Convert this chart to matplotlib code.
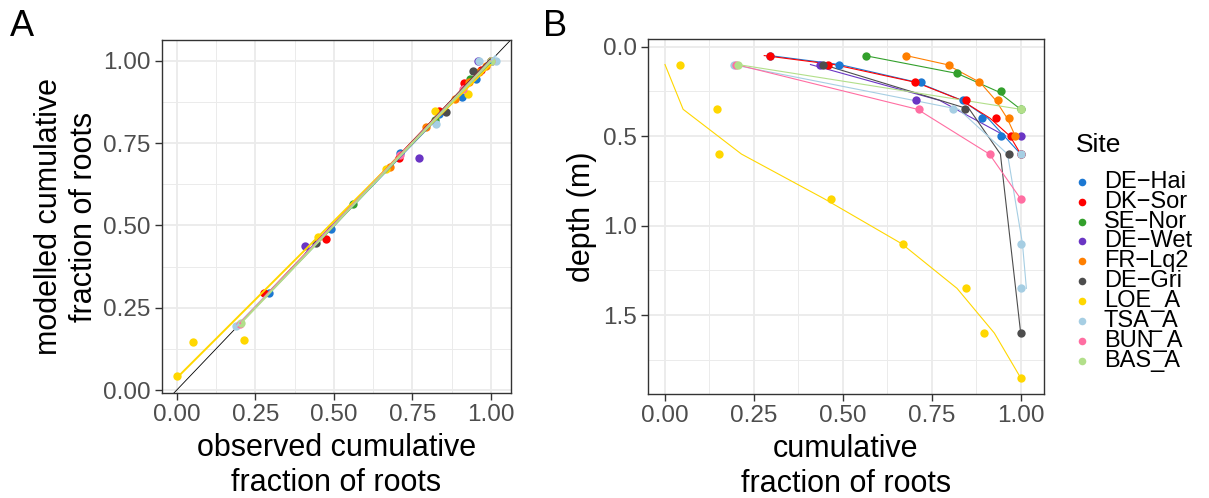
import matplotlib
matplotlib.use("Agg")
import matplotlib.pyplot as plt
import numpy as np

plt.rcParams['font.family'] = ['Liberation Sans', 'DejaVu Sans']

W, H = 1209, 498

sites = ["DE−Hai", "DK−Sor", "SE−Nor", "DE−Wet", "FR−Lq2", "DE−Gri",
         "LOE_A", "TSA_A", "BUN_A", "BAS_A"]
colors = ["#1C78D2", "#FF0000", "#33A02C", "#6A35C4", "#FF7F00", "#4D4D4D",
          "#FFD700", "#A6CEE3", "#FF6EA2", "#B2DF8A"]

# depth (m), observed cumulative fraction, modelled cumulative fraction
depth_hai = [0.05, 0.1, 0.2, 0.3, 0.4, 0.5, 0.6]
obs_hai = [0.294, 0.488, 0.721, 0.837, 0.890, 0.946, 1.0]
mod_hai = [0.295, 0.491, 0.710, 0.835, 0.908, 0.954, 1.0]

depth_sor = [0.05, 0.1, 0.2, 0.3, 0.4, 0.5, 0.6]
obs_sor = [0.296, 0.459, 0.704, 0.847, 0.931, 0.972, 1.0]
mod_sor = [0.279, 0.475, 0.706, 0.834, 0.914, 0.970, 1.0]

depth_nor = [0.05, 0.15, 0.25, 0.35]
obs_nor = [0.564, 0.820, 0.946, 1.0]
mod_nor = [0.562, 0.822, 0.935, 1.0]

depth_wet = [0.1, 0.3, 0.5]
obs_wet = [0.436, 0.705, 1.0]
mod_wet = [0.409, 0.772, 0.958]

depth_lq2 = [0.05, 0.1, 0.2, 0.3, 0.4, 0.5]
obs_lq2 = [0.677, 0.798, 0.884, 0.935, 0.966, 0.984]
mod_lq2 = [0.678, 0.792, 0.886, 0.930, 0.962, 0.985]

depth_gri = [0.1, 0.35, 0.6, 1.6]
obs_gri = [0.445, 0.843, 0.968, 1.0]
mod_gri = [0.444, 0.856, 0.943, 1.0]

depth_loe = [0.1, 0.35, 0.6, 0.85, 1.1, 1.35, 1.6, 1.85]
obs_loe = [0.043, 0.147, 0.152, 0.466, 0.670, 0.846, 0.898, 1.0]
mod_loe = [0.0, 0.051, 0.215, 0.448, 0.665, 0.821, 0.926, 1.0]

depth_tsa = [0.1, 0.35, 0.6, 1.1, 1.35]
obs_tsa = [0.194, 0.809, 1.0, 1.0, 1.0]
mod_tsa = [0.189, 0.826, 0.963, 1.005, 1.016]

depth_bun = [0.1, 0.35, 0.6, 0.85]
obs_bun = [0.200, 0.715, 0.913, 1.0]
mod_bun = [0.200, 0.710, 0.912, 1.0]

depth_bas = [0.1, 0.35]
obs_bas = [0.204, 1.0]
mod_bas = [0.205, 1.0]

depths = [depth_hai, depth_sor, depth_nor, depth_wet, depth_lq2, depth_gri,
          depth_loe, depth_tsa, depth_bun, depth_bas]
obs = [obs_hai, obs_sor, obs_nor, obs_wet, obs_lq2, obs_gri,
       obs_loe, obs_tsa, obs_bun, obs_bas]
mods = [mod_hai, mod_sor, mod_nor, mod_wet, mod_lq2, mod_gri,
        mod_loe, mod_tsa, mod_bun, mod_bas]

ticks_frac = [0.0, 0.25, 0.5, 0.75, 1.0]
ticklabels_frac = ["0.00", "0.25", "0.50", "0.75", "1.00"]
ticks_depth = [0.0, 0.5, 1.0, 1.5]
ticklabels_depth = ["0.0", "0.5", "1.0", "1.5"]

fig = plt.figure(figsize=(W / 100, H / 100), dpi=100)


def px_axes(l, t, r, b):
    return fig.add_axes([l / W, 1 - b / H, (r - l) / W, (b - t) / H])


axA = px_axes(161.7, 40, 511, 393.3)
axB = px_axes(647.7, 39.3, 1044.3, 394)

grid_col = "#EBEBEB"
tick_fs = 17.5
title_fs = 22


def style(ax):
    ax.set_facecolor("white")
    for s in ax.spines.values():
        s.set_color("#333333")
        s.set_linewidth(1.0)
    ax.tick_params(axis="both", which="major", length=5, width=1.0,
                   color="#333333", labelcolor="#4D4D4D", labelsize=tick_fs, pad=3)
    ax.tick_params(axis="both", which="minor", length=0)
    ax.grid(True, which="major", color=grid_col, linewidth=1.3, zorder=0)
    ax.grid(True, which="minor", color=grid_col, linewidth=0.7, zorder=0)
    ax.set_axisbelow(True)


# Panel A
style(axA)
axA.set_xlim(-0.048, 1.064)
axA.set_ylim(-0.010, 1.063)
axA.set_xticks(ticks_frac)
axA.set_xticklabels(ticklabels_frac)
axA.set_yticks(ticks_frac)
axA.set_yticklabels(ticklabels_frac)
axA.set_xticks([0.125, 0.375, 0.625, 0.875], minor=True)
axA.set_yticks([0.125, 0.375, 0.625, 0.875], minor=True)
axA.axline((0, 0), slope=1, color="black", lw=0.6, zorder=2)
for d, o, m, c in zip(depths, obs, mods, colors):
    axA.scatter(m, o, s=36, color=c, zorder=3, linewidths=0)
for d, o, m, c in zip(depths, obs, mods, colors):
    mm = np.asarray(m)
    coef = np.polyfit(mm, np.asarray(o), 1)
    xs = np.array([mm.min(), mm.max()])
    axA.plot(xs, np.polyval(coef, xs), color=c, lw=1.4, zorder=4,
             solid_capstyle="butt")
axA.set_xlabel("observed cumulative\nfraction of roots", fontsize=title_fs,
               labelpad=5, linespacing=1.2)
axA.set_ylabel("modelled cumulative\nfraction of roots", fontsize=title_fs,
               labelpad=3, linespacing=1.2)

# Panel B
style(axB)
axB.set_xlim(-0.0486, 1.0664)
axB.set_ylim(1.94, -0.041)
axB.set_xticks(ticks_frac)
axB.set_xticklabels(ticklabels_frac)
axB.set_yticks(ticks_depth)
axB.set_yticklabels(ticklabels_depth)
axB.set_xticks([0.125, 0.375, 0.625, 0.875], minor=True)
axB.set_yticks([0.25, 0.75, 1.25, 1.75], minor=True)
for d, o, m, c in zip(depths, obs, mods, colors):
    axB.plot(m, d, color=c, lw=0.8, zorder=3)
for d, o, m, c in zip(depths, obs, mods, colors):
    axB.scatter(o, d, s=36, color=c, zorder=4, linewidths=0)
axB.set_xlabel("cumulative\nfraction of roots", fontsize=title_fs,
               labelpad=5, linespacing=1.2)
axB.set_ylabel("depth (m)", fontsize=title_fs, labelpad=4)

# panel labels
fig.text(10 / W, 1 - 26 / H, "A", fontsize=26, va="center", ha="left")
fig.text(543 / W, 1 - 26 / H, "B", fontsize=26, va="center", ha="left")

# legend (manual)
fig.text(1076 / W, 1 - 145 / H, "Site", fontsize=19, va="center", ha="left")
lax = fig.add_axes([0, 0, 1, 1], facecolor="none")
lax.set_xlim(0, W)
lax.set_ylim(H, 0)
lax.axis("off")
for i, (s, c) in enumerate(zip(sites, colors)):
    y = 181.7 + 19.9 * i
    lax.scatter([1081.5], [y], s=30, color=c, linewidths=0)
    lax.text(1104, y, s, fontsize=17, va="center", ha="left")

fig.savefig("out.png", dpi=100)
